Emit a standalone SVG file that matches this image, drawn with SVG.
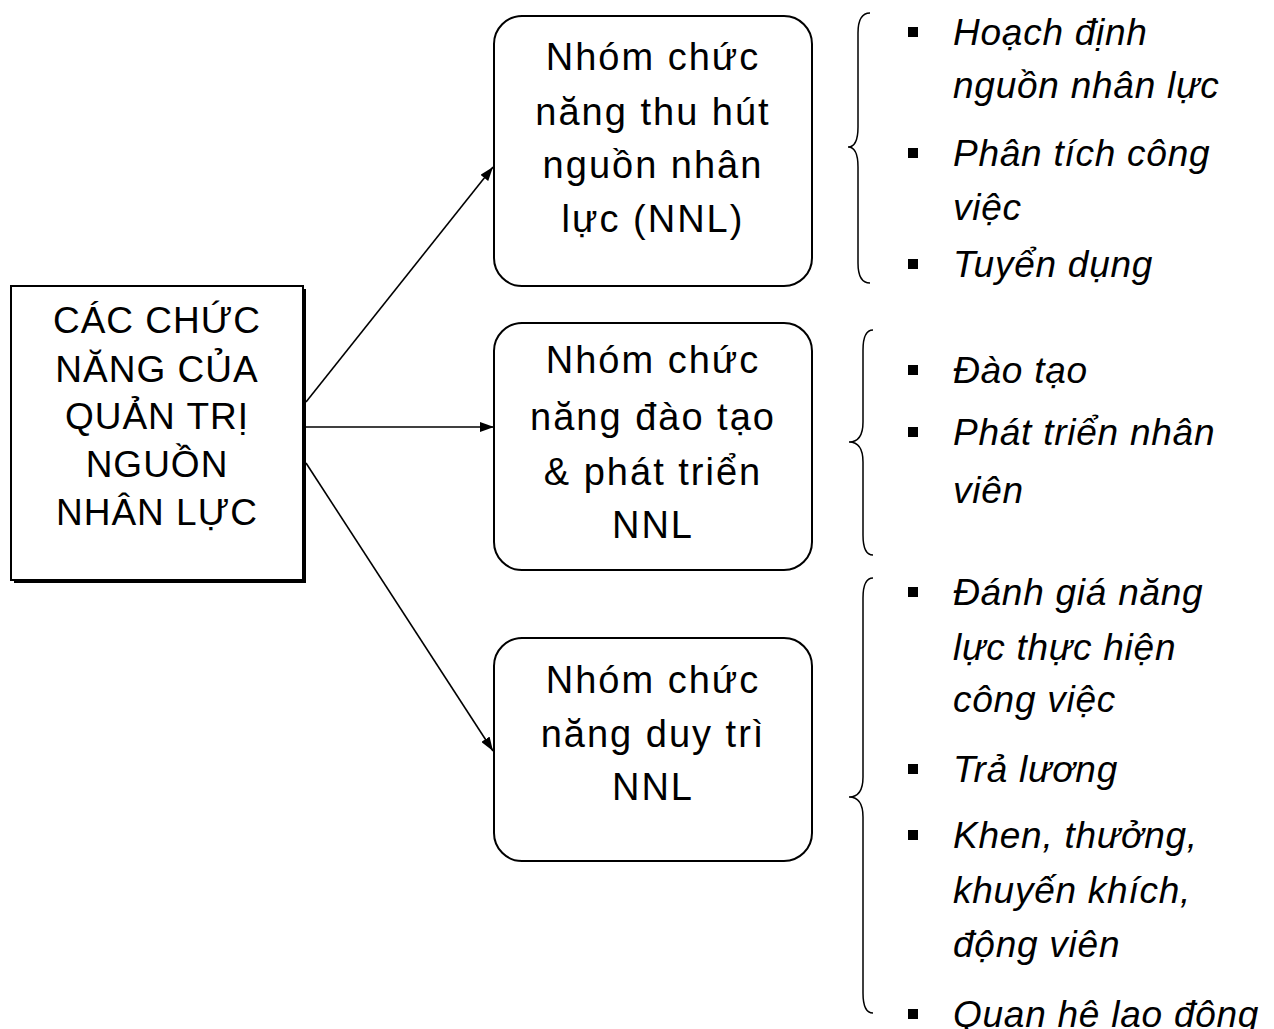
<svg xmlns="http://www.w3.org/2000/svg" width="1274" height="1029" viewBox="0 0 1274 1029">
<defs>
<style>
.t{font-family:"Liberation Sans",Arial,sans-serif;font-size:37px;fill:#000;text-anchor:middle}
.m{letter-spacing:1px}
.r{font-size:38px;letter-spacing:2px}
.b{font-family:"Liberation Sans",Arial,sans-serif;font-size:37px;font-style:italic;fill:#000;letter-spacing:0.75px}
.box{fill:#fff;stroke:#000;stroke-width:2}
.con{stroke:#000;stroke-width:1.6;fill:none}
.brace{stroke:#000;stroke-width:1.5;fill:none}
</style>
<marker id="ah" viewBox="0 0 14 10" refX="14" refY="5" markerWidth="14" markerHeight="10" markerUnits="userSpaceOnUse" orient="auto">
<path d="M0,0 L14,5 L0,10 Z" fill="#000"/>
</marker>
</defs>
<rect width="1274" height="1029" fill="#fff"/>

<g id="main">
<rect x="14" y="289" width="292" height="294" fill="#000"/>
<rect class="box" x="11" y="286" width="292" height="294"/>
<text class="t m" x="157" y="333">CÁC CHỨC</text>
<text class="t m" x="157" y="382">NĂNG CỦA</text>
<text class="t m" x="157" y="429">QUẢN TRỊ</text>
<text class="t m" x="157" y="477">NGUỒN</text>
<text class="t m" x="157" y="525">NHÂN LỰC</text>
</g>

<g id="connectors">
<line class="con" x1="306" y1="402" x2="493" y2="167" marker-end="url(#ah)"/>
<line class="con" x1="306" y1="427" x2="494" y2="427" marker-end="url(#ah)"/>
<line class="con" x1="306" y1="463" x2="493" y2="751" marker-end="url(#ah)"/>
</g>

<g id="node1">
<rect class="box" x="494" y="16" width="318" height="270" rx="28"/>
<text class="t r" x="653" y="70">Nhóm chức</text>
<text class="t r" x="653" y="125">năng thu hút</text>
<text class="t r" x="653" y="178">nguồn nhân</text>
<text class="t r" x="653" y="232">lực (NNL)</text>
</g>

<g id="node2">
<rect class="box" x="494" y="323" width="318" height="247" rx="28"/>
<text class="t r" x="653" y="373">Nhóm chức</text>
<text class="t r" x="653" y="430">năng đào tạo</text>
<text class="t r" x="653" y="485">&amp; phát triển</text>
<text class="t r" x="653" y="538">NNL</text>
</g>

<g id="node3">
<rect class="box" x="494" y="638" width="318" height="223" rx="28"/>
<text class="t r" x="653" y="693">Nhóm chức</text>
<text class="t r" x="653" y="747">năng duy trì</text>
<text class="t r" x="653" y="800">NNL</text>
</g>

<g id="list1">
<path class="brace" d="M870,13 Q858,13 858,33 L858,127 Q858,147 848,147 Q858,147 858,167 L858,263 Q858,283 870,283"/>
<rect x="908" y="27" width="10" height="10"/>
<text class="b" x="953" y="45">Hoạch định</text>
<text class="b" x="953" y="98">nguồn nhân lực</text>
<rect x="908" y="148" width="10" height="10"/>
<text class="b" x="953" y="166">Phân tích công</text>
<text class="b" x="953" y="220">việc</text>
<rect x="908" y="259" width="10" height="10"/>
<text class="b" x="953" y="277">Tuyển dụng</text>
</g>

<g id="list2">
<path class="brace" d="M873,330 Q863,330 863,350 L863,422 Q863,442 849,442 Q863,442 863,462 L863,535 Q863,555 873,555"/>
<rect x="908" y="365" width="10" height="10"/>
<text class="b" x="953" y="383">Đào tạo</text>
<rect x="908" y="427" width="10" height="10"/>
<text class="b" x="953" y="445">Phát triển nhân</text>
<text class="b" x="953" y="503">viên</text>
</g>

<g id="list3">
<path class="brace" d="M873,578 Q863,578 863,598 L863,777 Q863,797 849,797 Q863,797 863,817 L863,993 Q863,1013 873,1013"/>
<rect x="908" y="587" width="10" height="10"/>
<text class="b" x="953" y="605">Đánh giá năng</text>
<text class="b" x="953" y="660">lực thực hiện</text>
<text class="b" x="953" y="712">công việc</text>
<rect x="908" y="764" width="10" height="10"/>
<text class="b" x="953" y="782">Trả lương</text>
<rect x="908" y="830" width="10" height="10"/>
<text class="b" x="953" y="848">Khen, thưởng,</text>
<text class="b" x="953" y="903">khuyến khích,</text>
<text class="b" x="953" y="957">động viên</text>
<rect x="908" y="1009" width="10" height="10"/>
<text class="b" x="953" y="1027">Quan hệ lao động</text>
</g>
</svg>
